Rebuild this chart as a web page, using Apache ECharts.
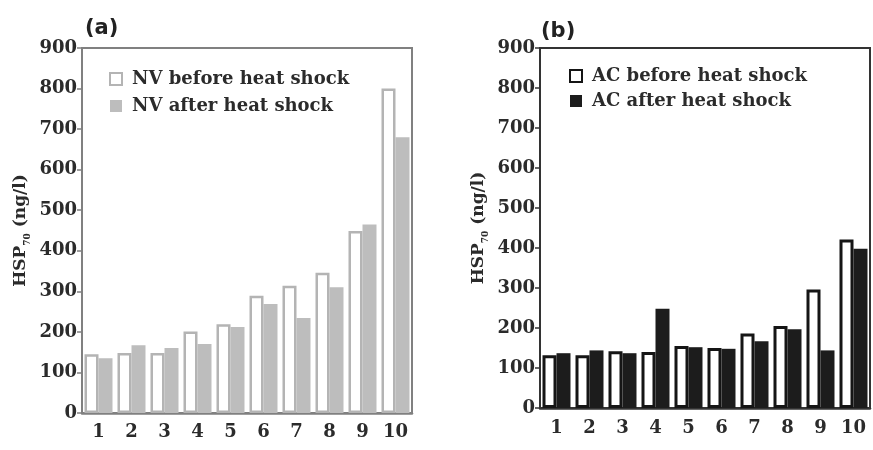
<!DOCTYPE html>
<html>
<head>
<meta charset="utf-8">
<script src="https://cdn.jsdelivr.net/npm/echarts@6/dist/echarts.min.js"></script>
<style>html,body{margin:0;padding:0;background:#fff}#c{width:873px;height:450px}</style>
</head>
<body>
<div id="c"></div>
<script>
const categories = ['1','2','3','4','5','6','7','8','9','10'];
const yTicks = [0,100,200,300,400,500,600,700,800,900];
const nvBefore = [145, 148, 148, 201, 219, 289, 314, 346, 449, 800];
const nvAfter  = [135, 167, 160, 170, 212, 269, 234, 310, 465, 680];
const acBefore = [132, 132, 142, 140, 155, 150, 186, 205, 296, 421];
const acAfter  = [137, 144, 137, 248, 152, 148, 167, 197, 144, 398];

const SERIF = '"DejaVu Serif", "Liberation Serif", serif';
const SANS = '"DejaVu Sans", "Liberation Sans", sans-serif';
const TXT = '#2b2b2b';

function yAxis(gridIndex, lineColor) {
  return {
    type: 'value', gridIndex, min: yTicks[0], max: yTicks[yTicks.length-1], interval: 100,
    splitLine: { show: false },
    axisLine: { show: true, lineStyle: { color: lineColor, width: 2 } },
    axisTick: { show: true, inside: false, length: 5, lineStyle: { color: lineColor, width: 1.5 } },
    axisLabel: { margin: 5, fontFamily: SERIF, fontWeight: 'bold', fontSize: 18, color: TXT },
    name: '{a|HSP}{s|70}{a| (ng/l)}',
    nameLocation: 'middle', nameRotate: 90, nameGap: 50,
    nameTextStyle: {
      rich: {
        a: { fontFamily: SERIF, fontWeight: 'bold', fontSize: 17, color: TXT, lineHeight: 22, verticalAlign: 'middle' },
        s: { fontFamily: SERIF, fontWeight: 'bold', fontSize: 9, color: TXT, lineHeight: 22, verticalAlign: 'bottom', padding: [10,0,0,0] }
      }
    }
  };
}
function xAxis(gridIndex, lineColor, margin) {
  return {
    type: 'category', gridIndex, data: categories,
    axisLine: { show: true, lineStyle: { color: lineColor, width: 2.5 } },
    axisTick: { show: false },
    axisLabel: { margin, fontFamily: SERIF, fontWeight: 'bold', fontSize: 18, color: TXT, interval: 0 }
  };
}

const chart = echarts.init(document.getElementById('c'));
chart.setOption({
  animation: false,
  backgroundColor: '#fff',
  title: [
    { text: '(a)', left: 80, top: 13, textStyle: { fontFamily: SANS, fontWeight: 'bold', fontSize: 21, color: '#222' } },
    { text: '(b)', left: 536, top: 16, textStyle: { fontFamily: SANS, fontWeight: 'bold', fontSize: 21, color: '#222' } }
  ],
  grid: [
    { left: 82, right: 461, top: 48, bottom: 37, show: true, borderColor: '#808080', borderWidth: 2, backgroundColor: 'transparent' },
    { left: 540, right: 3, top: 48, bottom: 42, show: true, borderColor: '#333', borderWidth: 2, backgroundColor: 'transparent' }
  ],
  legend: [
    { data: ['NV before heat shock', 'NV after heat shock'], orient: 'vertical', left: 104, top: 65,
      itemWidth: 12, itemHeight: 12, itemGap: 9, icon: 'rect',
      textStyle: { fontFamily: SERIF, fontWeight: 'bold', fontSize: 18, color: TXT, padding: [0,0,0,5] } },
    { data: ['AC before heat shock', 'AC after heat shock'], orient: 'vertical', left: 564, top: 62,
      itemWidth: 12, itemHeight: 12, itemGap: 7, icon: 'rect',
      textStyle: { fontFamily: SERIF, fontWeight: 'bold', fontSize: 18, color: TXT, padding: [0,0,0,5] } }
  ],
  xAxis: [xAxis(0, '#808080', 10), xAxis(1, '#333', 11)],
  yAxis: [yAxis(0, '#808080'), yAxis(1, '#333')],
  series: [
    { name: 'NV before heat shock', type: 'bar', xAxisIndex: 0, yAxisIndex: 0, data: nvBefore,
      barWidth: 14, barGap: '0%', itemStyle: { color: '#fff', borderColor: '#b4b4b4', borderWidth: 2.5 } },
    { name: 'NV after heat shock', type: 'bar', xAxisIndex: 0, yAxisIndex: 0, data: nvAfter,
      barWidth: 14, barGap: '0%', itemStyle: { color: '#bdbdbd' } },
    { name: 'AC before heat shock', type: 'bar', xAxisIndex: 1, yAxisIndex: 1, data: acBefore,
      barWidth: 14, barGap: '0%', itemStyle: { color: '#fff', borderColor: '#151515', borderWidth: 3 } },
    { name: 'AC after heat shock', type: 'bar', xAxisIndex: 1, yAxisIndex: 1, data: acAfter,
      barWidth: 14, barGap: '0%', itemStyle: { color: '#1c1c1c' } }
  ]
});
</script>
</body>
</html>
